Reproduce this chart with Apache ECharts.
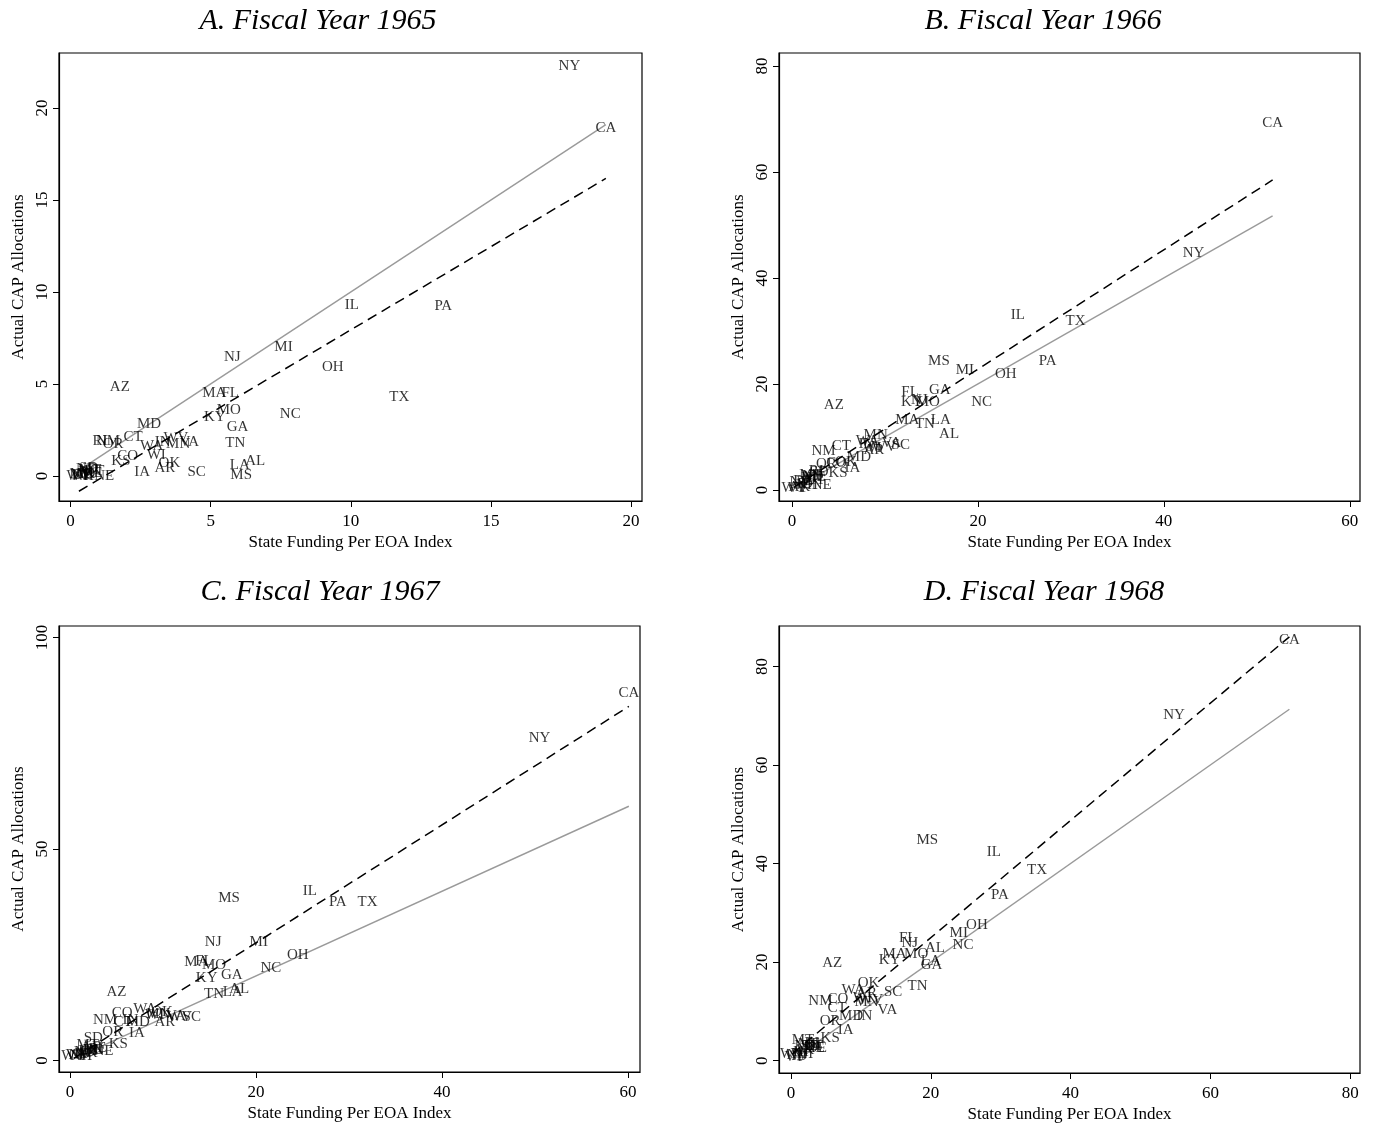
<!DOCTYPE html>
<html>
<head>
<meta charset="utf-8">
<script src="https://cdn.jsdelivr.net/npm/echarts@6/dist/echarts.min.js"></script>
<style>
html,body{margin:0;padding:0;background:#fff;}
#chart{width:1373px;height:1126px;}
</style>
</head>
<body>
<div id="chart"></div>
<script>
// ---------- DATA ----------
const STATES = ['AL','AK','AZ','AR','CA','CO','CT','DE','FL','GA','HI','ID','IL','IN','IA','KS','KY','LA','ME','MD','MA','MI','MN','MS','MO','MT','NE','NV','NH','NJ','NM','NY','NC','ND','OH','OK','OR','PA','RI','SC','SD','TN','TX','UT','VT','VA','WA','WV','WI','WY'];

// Fiscal Year 1965
const X1965 = [6.59,0.50,1.76,3.37,19.1,2.04,2.23,0.40,5.70,5.96,0.55,0.60,10.04,3.29,2.56,1.80,5.15,6.04,0.75,2.80,5.13,7.60,3.84,6.09,5.65,0.70,1.20,0.35,0.45,5.77,1.34,17.8,7.84,0.58,9.36,3.53,1.52,13.3,1.05,4.50,0.65,5.88,11.73,0.85,0.33,4.24,2.90,3.76,3.06,0.30];
const Y1965 = [0.80,0.10,4.82,0.45,18.9,1.07,2.12,0.05,4.52,2.64,0.20,0.10,9.28,1.84,0.21,0.80,3.20,0.60,0.15,2.83,4.52,7.00,1.71,0.06,3.59,0.30,0.00,0.10,0.00,6.47,1.90,22.3,3.36,0.40,5.92,0.70,1.74,9.22,1.90,0.21,0.45,1.80,4.27,0.25,0.05,1.84,1.60,2.04,1.13,0.00];

// Fiscal Year 1966
const X1966 = [16.9,0.8,4.5,8.8,51.7,4.8,5.3,1.2,12.7,15.9,1.8,1.4,24.3,8.0,6.5,4.95,12.9,16.0,2.4,7.2,12.4,18.6,9.0,15.8,14.6,2.0,3.2,0.9,1.6,13.7,3.4,43.2,20.4,2.2,23.0,5.8,3.7,27.5,2.6,11.7,2.9,14.3,30.5,2.5,0.6,10.7,8.1,9.9,8.6,0.2];
const Y1966 = [10.6,0.6,16.1,7.5,69.3,5.1,8.3,1.6,18.4,18.8,2.2,1.2,33.0,8.6,4.2,3.25,16.6,13.1,2.4,6.2,13.2,22.6,10.3,24.3,16.6,2.8,0.9,1.5,0.9,16.9,7.3,44.7,16.5,2.6,21.8,5.3,4.95,24.4,3.6,8.5,3.3,12.5,31.9,1.9,0.4,8.9,9.2,8.1,8.0,0.3];

// Fiscal Year 1967
const X1967 = [18.2,1.8,5.0,10.2,60.1,5.6,5.7,2.5,14.4,17.4,2.2,1.3,25.8,6.5,7.2,5.2,14.7,17.5,2.7,7.3,13.6,20.3,9.5,17.1,15.5,1.9,3.6,1.0,1.2,15.4,3.77,50.5,21.6,1.6,24.5,9.9,4.6,28.8,2.8,13.1,2.5,15.5,32.0,2.0,0.6,11.4,8.07,11.8,9.1,0.4];
const Y1967 = [17.0,1.8,16.3,9.1,86.9,11.2,9.1,2.4,23.5,20.1,2.4,1.6,40.0,9.6,6.5,3.9,19.5,16.2,3.0,9.1,23.2,28.1,11.0,38.5,22.6,3.7,2.2,1.4,1.0,27.9,9.56,76.2,21.8,2.0,25.0,11.45,6.7,37.4,2.8,10.3,5.3,15.7,37.4,2.2,1.2,10.5,12.2,10.3,10.7,1.0];

// Fiscal Year 1968
const X1968 = [20.6,1.8,5.9,10.8,71.3,6.7,6.6,3.7,16.7,20.1,1.4,1.2,29.0,10.5,7.8,5.6,14.1,20.0,2.6,8.6,14.8,24.0,10.8,19.5,17.9,1.7,3.4,0.9,1.6,17.0,4.2,54.8,24.6,2.0,26.6,11.1,5.6,29.9,3.0,14.6,2.8,18.1,35.2,3.2,0.5,13.8,8.9,11.4,10.2,0.2];
const Y1968 = [22.8,2.2,19.8,13.8,85.4,12.6,10.6,2.5,24.8,19.3,1.8,1.0,42.3,9.0,6.3,4.6,20.5,20.3,3.4,9.0,21.6,25.9,11.9,44.7,21.6,4.2,2.6,1.2,1.4,23.9,12.0,70.2,23.5,3.0,27.5,15.8,8.1,33.6,3.6,14.0,3.0,15.2,38.6,3.0,0.8,10.2,14.4,12.3,12.8,1.4];

// 45-degree reference lines (grey) and fitted lines (dashed)
const LINE45_1965 = [[0.3,0.3],[19.1,19.1]];
const FIT_1965    = [[0.3,-0.83],[19.1,16.17]];
const LINE45_1966 = [[0.2,0.2],[51.7,51.7]];
const FIT_1966    = [[0.2,0.49],[51.7,58.5]];
const LINE45_1967 = [[0.4,0.4],[60.1,60.1]];
const FIT_1967    = [[0.4,0.5],[60.1,83.7]];
const LINE45_1968 = [[0.2,0.2],[71.3,71.3]];
const FIT_1968    = [[0.2,1.4],[71.3,86.0]];

// Tick labels
const XTICKS_1965 = [0,5,10,15,20];
const YTICKS_1965 = [0,5,10,15,20];
const XTICKS_1966 = [0,20,40,60];
const YTICKS_1966 = [0,20,40,60,80];
const XTICKS_1967 = [0,20,40,60];
const YTICKS_1967 = [0,50,100];
const XTICKS_1968 = [0,20,40,60,80];
const YTICKS_1968 = [0,20,40,60,80];

const TITLES = ['A. Fiscal Year 1965','B. Fiscal Year 1966','C. Fiscal Year 1967','D. Fiscal Year 1968'];
const XNAME = 'State Funding Per EOA Index';
const YNAME = 'Actual CAP Allocations';

// ---------- LAYOUT ----------
const FONT = '"Liberation Serif","Times New Roman",serif';
const panels = [
  {x:X1965,y:Y1965,l45:LINE45_1965,fit:FIT_1965,xt:XTICKS_1965,yt:YTICKS_1965,
   grid:{left:59,top:53,width:583,height:448}, xr:[-0.41,20.39], yr:[-1.36,22.99], title:[318,21]},
  {x:X1966,y:Y1966,l45:LINE45_1966,fit:FIT_1966,xt:XTICKS_1966,yt:YTICKS_1966,
   grid:{left:779,top:53,width:581,height:448}, xr:[-1.4,61.1], yr:[-2.08,82.45], title:[1043,21]},
  {x:X1967,y:Y1967,l45:LINE45_1967,fit:FIT_1967,xt:XTICKS_1967,yt:YTICKS_1967,
   grid:{left:59,top:626,width:581,height:446}, xr:[-1.18,61.3], yr:[-2.7,102.7], title:[320,592]},
  {x:X1968,y:Y1968,l45:LINE45_1968,fit:FIT_1968,xt:XTICKS_1968,yt:YTICKS_1968,
   grid:{left:779,top:626,width:581,height:447}, xr:[-1.72,81.4], yr:[-2.5,88.2], title:[1044,592]}
];

const grids=[], xAxes=[], yAxes=[], series=[], graphics=[];
panels.forEach((p,i)=>{
  grids.push(Object.assign({show:true,borderColor:'#000',borderWidth:1.2,backgroundColor:'#fff',containLabel:false},p.grid));
  xAxes.push({
    type:'value', gridIndex:i, min:p.xr[0], max:p.xr[1],
    name:XNAME, nameLocation:'middle', nameGap:33,
    nameTextStyle:{fontFamily:FONT,fontSize:17,color:'#000'},
    axisLine:{show:true,onZero:false,lineStyle:{color:'#000',width:1.2}},
    axisTick:{show:true,length:6,lineStyle:{color:'#000',width:1},customValues:p.xt},
    axisLabel:{show:true,margin:12,fontFamily:FONT,fontSize:17,color:'#000',customValues:p.xt},
    splitLine:{show:false}
  });
  yAxes.push({
    type:'value', gridIndex:i, min:p.yr[0], max:p.yr[1],
    name:YNAME, nameLocation:'middle', nameGap:32, nameRotate:90,
    nameTextStyle:{fontFamily:FONT,fontSize:17,color:'#000'},
    axisLine:{show:true,onZero:false,lineStyle:{color:'#000',width:1.2}},
    axisTick:{show:true,length:6,lineStyle:{color:'#000',width:1},customValues:p.yt},
    axisLabel:{show:true,margin:8,rotate:90,fontFamily:FONT,fontSize:17,color:'#000',customValues:p.yt},
    splitLine:{show:false}
  });
  series.push({
    type:'line', xAxisIndex:i, yAxisIndex:i, data:p.l45, showSymbol:false, symbol:'none',
    lineStyle:{color:'#9a9a9a',width:1.4}, z:2, silent:true
  });
  series.push({
    type:'line', xAxisIndex:i, yAxisIndex:i, data:p.fit, showSymbol:false, symbol:'none',
    lineStyle:{color:'#000',width:1.5,type:[10,6]}, z:2, silent:true
  });
  series.push({
    type:'scatter', xAxisIndex:i, yAxisIndex:i, symbol:'circle', symbolSize:2,
    itemStyle:{color:'rgba(0,0,0,0)'},
    data:STATES.map((s,k)=>({name:s,value:[p.x[k],p.y[k]]})),
    label:{show:true,position:'inside',formatter:'{b}',fontFamily:FONT,fontSize:15,color:'#000'},
    z:3, silent:true
  });
  graphics.push({
    type:'text', x:p.title[0], y:p.title[1],
    style:{text:TITLES[i],fontFamily:FONT,fontStyle:'italic',fontSize:30,fill:'#000',textAlign:'center',textVerticalAlign:'middle'}
  });
});

const chart = echarts.init(document.getElementById('chart'),null,{renderer:'canvas'});
chart.setOption({
  animation:false,
  backgroundColor:'#fff',
  grid:grids, xAxis:xAxes, yAxis:yAxes, series:series,
  graphic:graphics
});
</script>
</body>
</html>
